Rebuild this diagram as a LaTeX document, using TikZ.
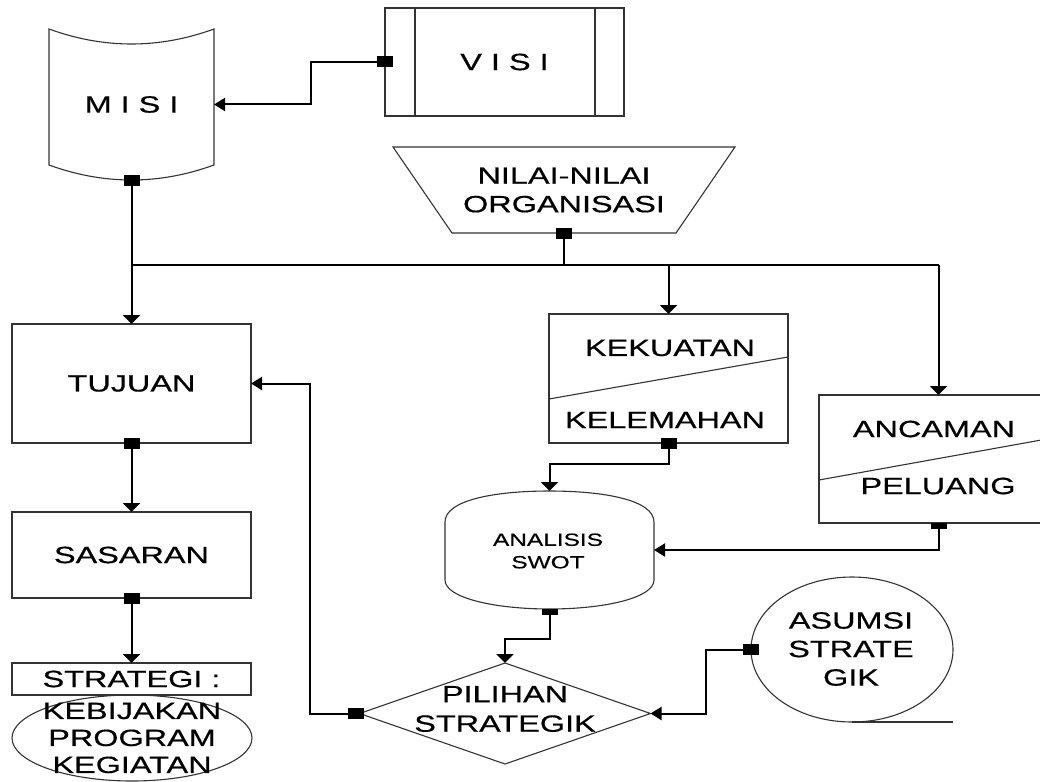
\documentclass[tikz,border=0pt]{standalone}
\usepackage{fontspec}
\setmainfont{Liberation Sans}[FakeStretch=1.38,FakeBold=0.5]
\usetikzlibrary{arrows.meta,shapes.geometric,calc}
\begin{document}
\begin{tikzpicture}[x=1pt,y=-1pt,
  shp/.style={draw=black!80,line width=1.1pt},
  box/.style={shp,rectangle,inner sep=0pt,outer sep=0pt},
  ghost/.style={rectangle,inner sep=0pt,outer sep=0pt},
  txt/.style={font=\fontsize{23.5}{28.5}\selectfont,align=center,inner sep=0pt},
  conn/.style={line width=2pt,draw=black},
  va/.style={conn,-{Triangle[width=17pt,length=9pt]}},
  ha/.style={conn,-{Triangle[width=13pt,length=11pt]}},
  sq/.style={fill=black,minimum width=16pt,minimum height=11pt,inner sep=0pt,outer sep=0pt},
]
\clip (0,0) rectangle (1040,781);
\fill[white] (0,0) rectangle (1040,781);

% ---- MISI ----
\node[ghost,txt,minimum width=165pt,minimum height=151pt] (misi) at (131.5,104.5) {M I S I};
\draw[shp] (49,29) .. controls (104,49) and (159,49) .. (214,29) -- (214,165)
  .. controls (159,185) and (104,185) .. (49,165) -- cycle;

% ---- VISI ----
\node[box,txt,minimum width=239pt,minimum height=108pt] (visi) at (504.5,62) {V I S I};
\draw[shp] ($(visi.north west)+(30,0)$) -- ($(visi.south west)+(30,0)$);
\draw[shp] ($(visi.north east)+(-29,0)$) -- ($(visi.south east)+(-29,0)$);

% ---- NILAI ----
\node[ghost,txt,minimum width=342pt,minimum height=86pt] (nilai) at (564,190) {NILAI-NILAI\\ORGANISASI};
\draw[shp] (393,147) -- (735,147) -- (676,233) -- (452,233) -- cycle;

% ---- left column ----
\node[box,txt,minimum width=239pt,minimum height=119pt] (tujuan) at (131.5,383.5) {TUJUAN};
\node[box,txt,minimum width=239pt,minimum height=86pt] (sasaran) at (131.5,555) {SASARAN};
\node[box,txt,minimum width=239pt,minimum height=32pt] (strategi) at (131.5,679) {STRATEGI :};
\draw[shp] (132,738) ellipse [x radius=120, y radius=43];
\node[txt,font=\fontsize{23.5}{27}\selectfont] (keg) at (132,738) {KEBIJAKAN\\PROGRAM\\KEGIATAN};

% ---- KEKUATAN / KELEMAHAN ----
\node[box,minimum width=239pt,minimum height=129pt] (kek) at (668.5,378.5) {};
\draw[shp] (549,399) -- (788,357);
\node[txt] (kt) at (670,348) {KEKUATAN};
\node[txt] (kl) at (665,420) {KELEMAHAN};

% ---- ANCAMAN / PELUANG ----
\node[box,minimum width=239pt,minimum height=128pt] (anc) at (938.5,459) {};
\draw[shp] (819,480) -- (1058,437);
\node[txt] (an) at (934,429) {ANCAMAN};
\node[txt] (pe) at (938,486) {PELUANG};

% ---- ANALISIS SWOT ----
\node[ghost,minimum width=209pt,minimum height=118pt] (swot) at (549.5,550) {};
\draw[shp] (445,580) -- (445,522) .. controls (445,500) and (495,491) .. (549.5,491)
  .. controls (604,491) and (654,500) .. (654,522) -- (654,580)
  .. controls (654,598) and (604,609) .. (549.5,609)
  .. controls (495,609) and (445,598) .. (445,580) -- cycle;
\node[txt,font=\fontsize{17.7}{22.5}\selectfont] (swt) at (548,551) {ANALISIS\\SWOT};

% ---- PILIHAN STRATEGIK ----
\node[shp,diamond,minimum width=291pt,minimum height=101pt,inner sep=0pt,outer sep=0pt] (pil) at (505,713.5) {};
\node[txt,font=\fontsize{23.5}{29.5}\selectfont] (pt) at (505,709) {PILIHAN\\STRATEGIK};

% ---- ASUMSI STRATEGIK ----
\node[shp,ellipse,minimum width=202pt,minimum height=145pt,inner sep=0pt,outer sep=0pt] (asu) at (852,649.5) {};
\node[txt] (as) at (851,649) {ASUMSI\\STRATE\\GIK};
\draw[shp] (asu.south) -- ++(101,0);

% ---- connectors ----
\draw[ha] (visi.west) -- ++(-74,0) |- (misi.east);
\draw[va] (misi.south) -- (tujuan.north);
\draw[conn] (nilai.south) -- ++(0,32) coordinate (bus);
\draw[conn] (bus -| misi.south) -- (bus -| anc.north);
\draw[va] (bus -| kek.north) -- (kek.north);
\draw[va] (bus -| anc.north) -- (anc.north);
\draw[va] (tujuan.south) -- (sasaran.north);
\draw[va] (sasaran.south) -- (strategi.north);
\draw[va] (kek.south) -- ++(0,21) -| (swot.north);
\draw[ha] (anc.south) |- (swot.east);
\draw[va] (swot.south) -- ++(0,30) -| (pil.north);
\draw[ha] (asu.west) -- ++(-45,0) |- (pil.east);
\draw[ha] (pil.west) -- ++(-49.5,0) |- (tujuan.east);

% ---- square markers ----
\node[sq] (q1) at (visi.west) {};
\node[sq] (q2) at (misi.south) {};
\node[sq] (q3) at (nilai.south) {};
\node[sq] (q4) at (tujuan.south) {};
\node[sq] (q5) at (sasaran.south) {};
\node[sq] (q6) at (kek.south) {};
\node[sq,minimum height=6pt,anchor=north] (q7) at (anc.south) {};
\node[sq,minimum height=6pt,anchor=north] (q8) at (swot.south) {};
\node[sq] (q9) at (asu.west) {};
\node[sq] (q10) at ($(pil.west)+(-4,0)$) {};
\end{tikzpicture}
\end{document}
